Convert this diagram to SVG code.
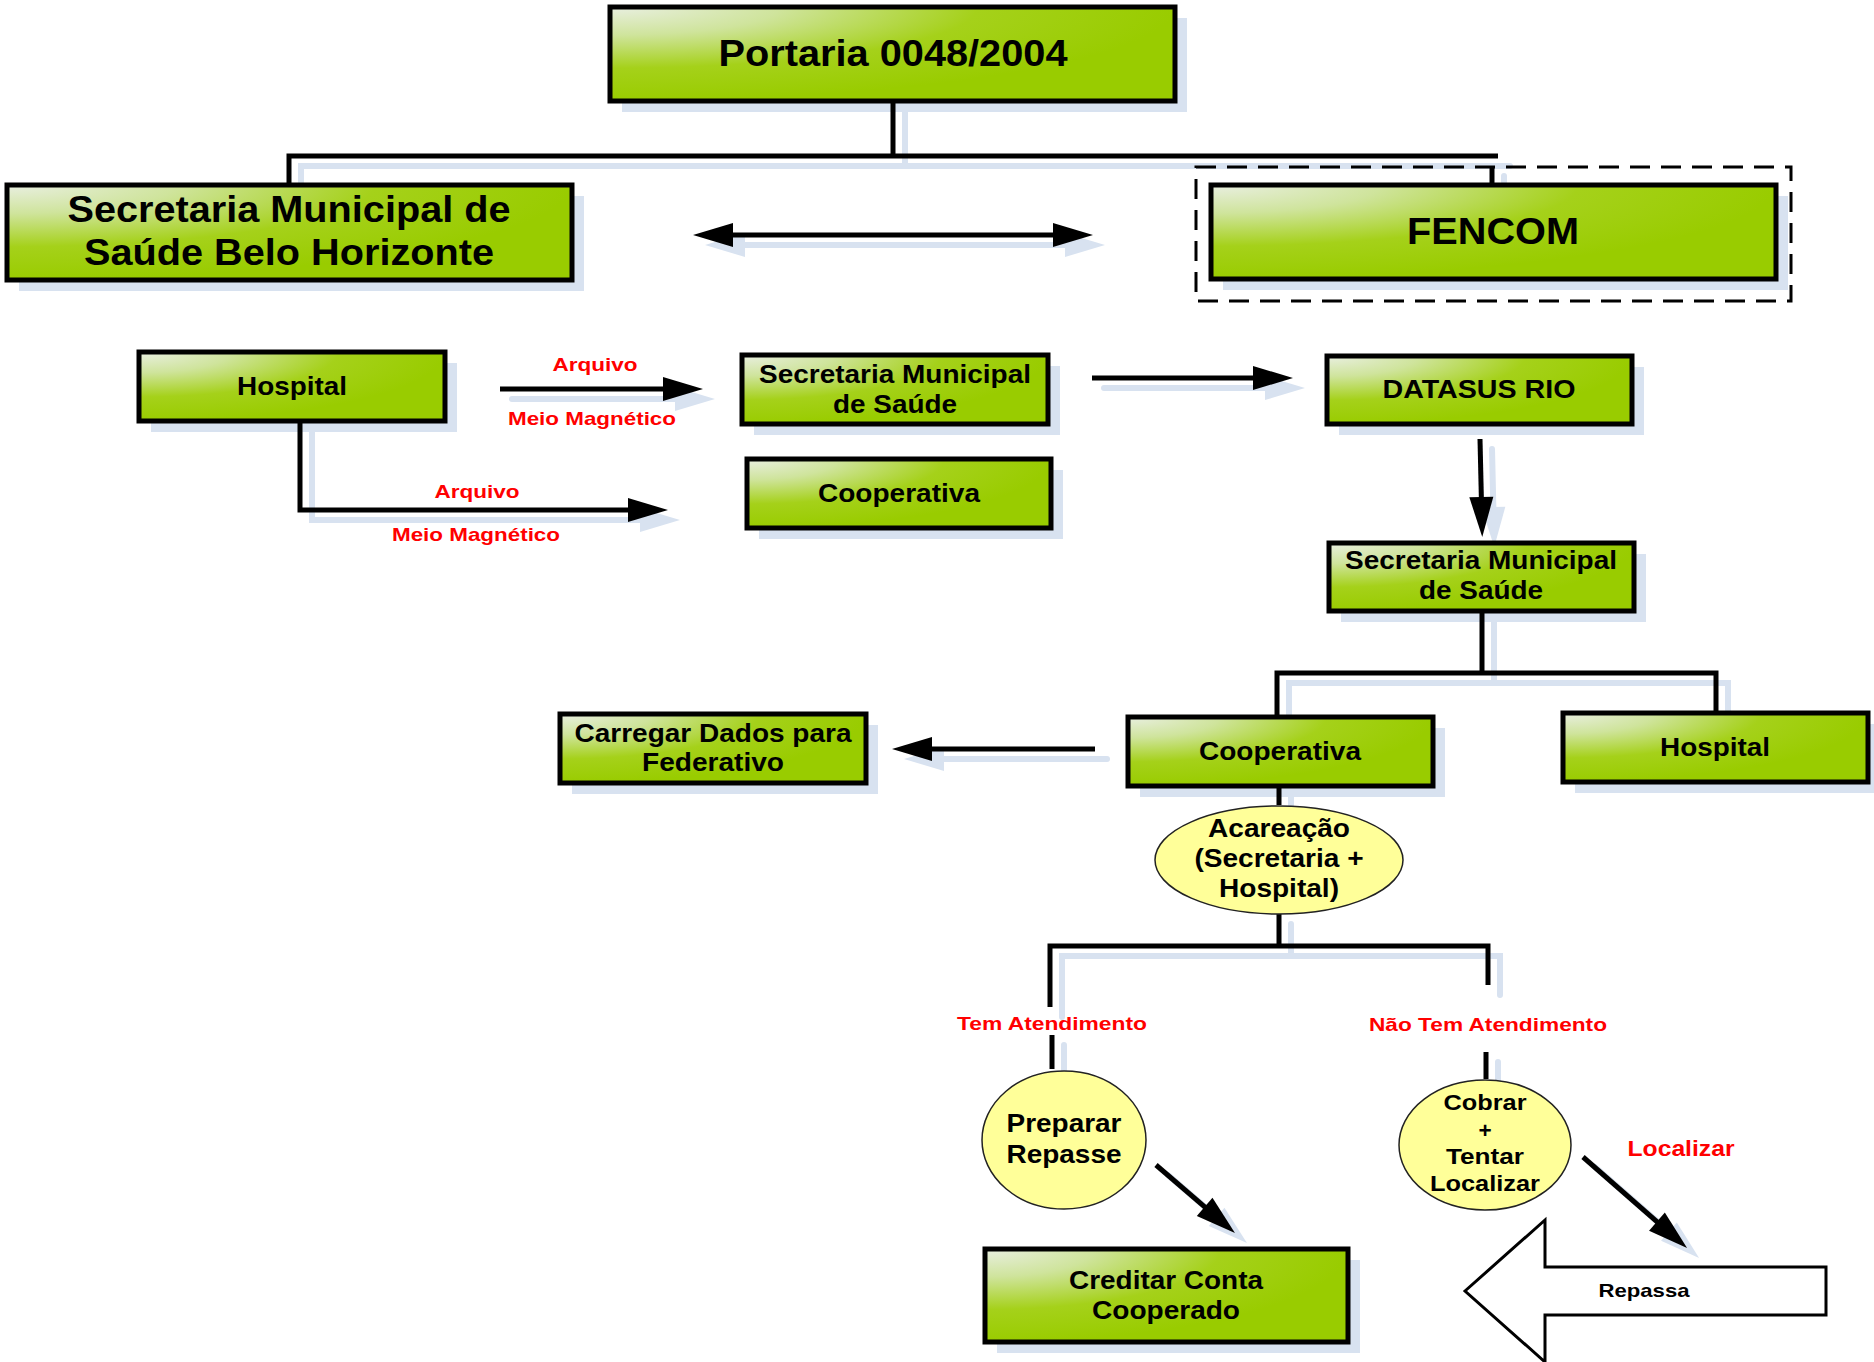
<svg xmlns="http://www.w3.org/2000/svg" width="1874" height="1362" viewBox="0 0 1874 1362">
<style>
.box{fill:url(#g);stroke:#000;stroke-width:5}
.sh{fill:#d8e2f0}
.ell{fill:#ffff99;stroke:#222;stroke-width:1.5}
.t{font-family:"Liberation Sans",Arial,sans-serif;font-weight:bold;text-anchor:middle;fill:#000}
.big{font-size:36px}
.mid{font-size:25px}
.sm{font-size:22.5px}
.red{font-size:19px;fill:#ff0000}
.ln{fill:none;stroke:#000;stroke-width:5;stroke-linejoin:miter}
.lns{fill:none;stroke:#d8e2f0;stroke-width:6;stroke-linecap:round}
.arr{marker-end:url(#ah)}
.arrs{marker-end:url(#ahs)}
</style>
<defs>
<radialGradient id="g" cx="0" cy="0" fx="0" fy="0" r="1">
<stop offset="0" stop-color="#e9efe1"/>
<stop offset="0.3" stop-color="#cfe49c"/>
<stop offset="0.65" stop-color="#a5d11a"/>
<stop offset="1" stop-color="#99cc00"/>
</radialGradient>
<marker id="ah" markerUnits="userSpaceOnUse" markerWidth="40" markerHeight="24" refX="20" refY="12" orient="auto-start-reverse" overflow="visible">
<path d="M0,0 L40,12 L0,24 Z" fill="#000"/>
</marker>
<marker id="ahs" markerUnits="userSpaceOnUse" markerWidth="40" markerHeight="24" refX="20" refY="12" orient="auto-start-reverse" overflow="visible">
<path d="M0,0 L40,12 L0,24 Z" fill="#d8e2f0"/>
</marker>
</defs>
<rect width="1874" height="1362" fill="#fff"/>

<g id="shadows">
<rect class="sh" x="622" y="18" width="565" height="94"/>
<rect class="sh" x="19" y="196" width="565" height="95"/>
<rect class="sh" x="1223" y="196" width="565" height="94"/>
<rect class="sh" x="151" y="363" width="306" height="69"/>
<rect class="sh" x="754" y="366" width="306" height="69"/>
<rect class="sh" x="759" y="470" width="304" height="69"/>
<rect class="sh" x="1339" y="367" width="305" height="68"/>
<rect class="sh" x="1341" y="554" width="305" height="68"/>
<rect class="sh" x="1140" y="728" width="305" height="69"/>
<rect class="sh" x="1575" y="724" width="305" height="69"/>
<rect class="sh" x="572" y="725" width="306" height="69"/>
<rect class="sh" x="997" y="1260" width="363" height="93"/>
</g>

<g id="connectors">
<g transform="translate(12,10)">
<path class="lns" d="M893,102 V156"/>
<path class="lns" d="M289,185 V156 H1498"/>
<path class="lns" d="M1492,166 V185"/>
<path class="lns arrs" d="M713,235 H1073" style="marker-start:url(#ahs)"/>
<path class="lns arrs" d="M500,389 H683"/>
<path class="lns arrs" d="M300,421 V510 H648"/>
<path class="lns arrs" d="M1092,378 H1273"/>
<path class="lns arrs" d="M1480,439 L1481.8,517"/>
<path class="lns" d="M1482,611 V673 M1277,717 V673 H1716 V713"/>
<path class="lns arrs" d="M1095,749 H912"/>
<path class="lns" d="M1279,787 V805 M1279,914 V946 M1050,1007 V946 H1488 V985"/>
<path class="lns" d="M1052,1035 V1069 M1486,1052 V1079"/>
<path class="lns arrs" d="M1156,1165 L1219.8,1219.9"/>
<path class="lns arrs" d="M1583,1157 L1672,1234.8"/>
</g>
<path class="ln" d="M893,102 V156"/>
<path class="ln" d="M289,185 V156 H1498"/>
<path class="ln" d="M1492,166 V185"/>
<path class="ln arr" d="M713,235 H1073" style="marker-start:url(#ah)"/>
<path class="ln arr" d="M500,389 H683"/>
<path class="ln arr" d="M300,421 V510 H648"/>
<path class="ln arr" d="M1092,378 H1273"/>
<path class="ln arr" d="M1480,439 L1481.8,517"/>
<path class="ln" d="M1482,611 V673 M1277,717 V673 H1716 V713"/>
<path class="ln arr" d="M1095,749 H912"/>
<path class="ln" d="M1279,787 V805 M1279,914 V946 M1050,1007 V946 H1488 V985"/>
<path class="ln" d="M1052,1035 V1069 M1486,1052 V1079"/>
<path class="ln arr" d="M1156,1165 L1219.8,1219.9"/>
<path class="ln arr" d="M1583,1157 L1672,1234.8"/>
<text class="t red" x="595" y="371" textLength="85" lengthAdjust="spacingAndGlyphs">Arquivo</text>
<text class="t red" x="592" y="425" textLength="168" lengthAdjust="spacingAndGlyphs">Meio Magnético</text>
<text class="t red" x="477" y="498" textLength="85" lengthAdjust="spacingAndGlyphs">Arquivo</text>
<text class="t red" x="476" y="541" textLength="168" lengthAdjust="spacingAndGlyphs">Meio Magnético</text>
<text class="t red" x="1052" y="1030" textLength="190" lengthAdjust="spacingAndGlyphs">Tem Atendimento</text>
<text class="t red" x="1488" y="1031" textLength="238" lengthAdjust="spacingAndGlyphs">Não Tem Atendimento</text>
<text class="t red" x="1681" y="1156" style="font-size:22px" textLength="107" lengthAdjust="spacingAndGlyphs">Localizar</text>
</g>

<g id="portaria">
<rect class="box" x="610" y="7" width="565" height="94"/>
<text class="t big" x="893" y="66" textLength="349" lengthAdjust="spacingAndGlyphs">Portaria 0048/2004</text>
</g>
<g id="sms-bh">
<rect class="box" x="7" y="185" width="565" height="95"/>
<text class="t big" x="289" y="222" textLength="443" lengthAdjust="spacingAndGlyphs">Secretaria Municipal de</text>
<text class="t big" x="289" y="265" textLength="410" lengthAdjust="spacingAndGlyphs">Saúde Belo Horizonte</text>
</g>
<g id="fencom">
<rect x="1196" y="167" width="595" height="134" fill="none" stroke="#000" stroke-width="3" stroke-dasharray="20 11"/>
<rect class="box" x="1211" y="185" width="565" height="94"/>
<text class="t big" x="1493" y="244" textLength="172" lengthAdjust="spacingAndGlyphs">FENCOM</text>
</g>
<g id="hospital-1">
<rect class="box" x="139" y="352" width="306" height="69"/>
<text class="t mid" x="292" y="395" textLength="110" lengthAdjust="spacingAndGlyphs">Hospital</text>
</g>
<g id="sms-1">
<rect class="box" x="742" y="355" width="306" height="69"/>
<text class="t mid" x="895" y="383" textLength="272" lengthAdjust="spacingAndGlyphs">Secretaria Municipal</text>
<text class="t mid" x="895" y="413" textLength="124" lengthAdjust="spacingAndGlyphs">de Saúde</text>
</g>
<g id="cooperativa-1">
<rect class="box" x="747" y="459" width="304" height="69"/>
<text class="t mid" x="899" y="502" textLength="162" lengthAdjust="spacingAndGlyphs">Cooperativa</text>
</g>
<g id="datasus">
<rect class="box" x="1327" y="356" width="305" height="68"/>
<text class="t mid" x="1479" y="398" textLength="193" lengthAdjust="spacingAndGlyphs">DATASUS RIO</text>
</g>
<g id="sms-2">
<rect class="box" x="1329" y="543" width="305" height="68"/>
<text class="t mid" x="1481" y="569" textLength="272" lengthAdjust="spacingAndGlyphs">Secretaria Municipal</text>
<text class="t mid" x="1481" y="599" textLength="124" lengthAdjust="spacingAndGlyphs">de Saúde</text>
</g>
<g id="cooperativa-2">
<rect class="box" x="1128" y="717" width="305" height="69"/>
<text class="t mid" x="1280" y="760" textLength="162" lengthAdjust="spacingAndGlyphs">Cooperativa</text>
</g>
<g id="hospital-2">
<rect class="box" x="1563" y="713" width="305" height="69"/>
<text class="t mid" x="1715" y="756" textLength="110" lengthAdjust="spacingAndGlyphs">Hospital</text>
</g>
<g id="carregar">
<rect class="box" x="560" y="714" width="306" height="69"/>
<text class="t mid" x="713" y="742" textLength="277" lengthAdjust="spacingAndGlyphs">Carregar Dados para</text>
<text class="t mid" x="713" y="771" textLength="142" lengthAdjust="spacingAndGlyphs">Federativo</text>
</g>
<g id="acareacao">
<ellipse class="ell" cx="1279" cy="860" rx="124" ry="54"/>
<text class="t mid" x="1279" y="837" textLength="142" lengthAdjust="spacingAndGlyphs">Acareação</text>
<text class="t mid" x="1279" y="867" textLength="169" lengthAdjust="spacingAndGlyphs">(Secretaria +</text>
<text class="t mid" x="1279" y="897" textLength="120" lengthAdjust="spacingAndGlyphs">Hospital)</text>
</g>
<g id="preparar">
<ellipse class="ell" cx="1064" cy="1140" rx="82" ry="69"/>
<text class="t mid" x="1064" y="1132" textLength="115" lengthAdjust="spacingAndGlyphs">Preparar</text>
<text class="t mid" x="1064" y="1163" textLength="115" lengthAdjust="spacingAndGlyphs">Repasse</text>
</g>
<g id="cobrar">
<ellipse class="ell" cx="1485" cy="1145" rx="86" ry="65"/>
<text class="t sm" x="1485" y="1110" textLength="83" lengthAdjust="spacingAndGlyphs">Cobrar</text>
<text class="t sm" x="1485" y="1138">+</text>
<text class="t sm" x="1485" y="1164" textLength="78" lengthAdjust="spacingAndGlyphs">Tentar</text>
<text class="t sm" x="1485" y="1191" textLength="110" lengthAdjust="spacingAndGlyphs">Localizar</text>
</g>
<g id="creditar">
<rect class="box" x="985" y="1249" width="363" height="93"/>
<text class="t mid" x="1166" y="1289" textLength="194" lengthAdjust="spacingAndGlyphs">Creditar Conta</text>
<text class="t mid" x="1166" y="1319" textLength="148" lengthAdjust="spacingAndGlyphs">Cooperado</text>
</g>
<g id="repassa">
<polygon points="1465,1291 1545,1220 1545,1267 1826,1267 1826,1315 1545,1315 1545,1362" fill="#fff" stroke="#000" stroke-width="3"/>
<text class="t" x="1644" y="1297" style="font-size:19px" textLength="91" lengthAdjust="spacingAndGlyphs">Repassa</text>
</g>
</svg>
